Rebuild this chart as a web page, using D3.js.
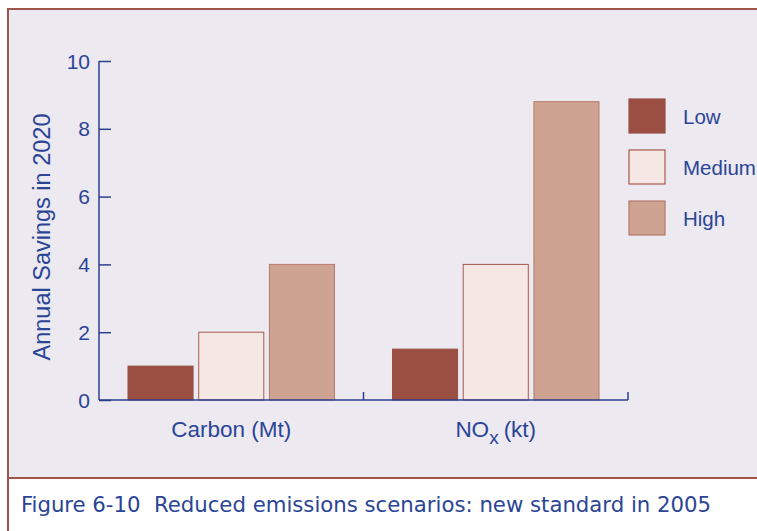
<!DOCTYPE html>
<html>
<head>
<meta charset="utf-8">
<script src="https://cdn.jsdelivr.net/npm/d3@7"></script>
<style>
  body { margin: 0; background: #fff; }
  svg { display: block; }
</style>
</head>
<body>
<div class="chart"></div>
<script>
// Data
const categories = ['Carbon (Mt)', 'NOx (kt)'];
const seriesNames = ['Low', 'Medium', 'High'];
const lowValues = [1, 1.5];
const mediumValues = [2, 4];
const highValues = [4, 8.8];
const yTicks = [0, 2, 4, 6, 8, 10];

const seriesValues = { Low: lowValues, Medium: mediumValues, High: highValues };
const dataset = [];
categories.forEach((c, i) => {
    seriesNames.forEach(s => dataset.push({ category: c, series: s, value: seriesValues[s][i] }));
});

// Dimensions
const dimensions = { width: 757, height: 531 };
const textColor = '#2b4596';
const axisColor = '#2b3f8f';
const borderColor = '#a0554b';
const font = 'Liberation Sans, Arial, sans-serif';

const svg = d3.select('.chart')
    .append('svg')
    .attr('width', dimensions.width)
    .attr('height', dimensions.height);

// Panel
svg.append('rect')
    .attr('x', 8).attr('y', 9)
    .attr('width', 760).attr('height', 469)
    .attr('fill', '#ece9f1')
    .attr('stroke', borderColor)
    .attr('stroke-width', 2);
svg.append('line')
    .attr('x1', 8).attr('x2', 8)
    .attr('y1', 478).attr('y2', 531)
    .attr('stroke', borderColor)
    .attr('stroke-width', 2);

// Scales
const xScale = d3.scaleBand()
    .domain(categories)
    .range([99, 628]);

const subScale = d3.scaleBand()
    .domain(seriesNames)
    .range([0, xScale.bandwidth()])
    .paddingInner(0.08)
    .paddingOuter(0.41);

const yScale = d3.scaleLinear()
    .domain([0, 10])
    .range([400, 61]);

const fillScale = d3.scaleOrdinal()
    .domain(seriesNames)
    .range(['#9a4f42', '#f5e8e4', '#cfa391']);
const strokeScale = d3.scaleOrdinal()
    .domain(seriesNames)
    .range(['#9a4f42', '#a85a4e', '#b47a6b']);

// Bars
svg.append('g')
    .selectAll('rect')
    .data(dataset)
    .join('rect')
    .attr('x', d => xScale(d.category) + subScale(d.series))
    .attr('y', d => yScale(d.value))
    .attr('width', subScale.bandwidth())
    .attr('height', d => yScale(0) - yScale(d.value))
    .attr('fill', d => fillScale(d.series))
    .attr('stroke', d => strokeScale(d.series))
    .attr('stroke-width', 1);

// Y axis
const yAxisGroup = svg.append('g')
    .attr('transform', 'translate(99,0)')
    .call(d3.axisRight(yScale).tickValues(yTicks).tickSize(12).tickFormat(''));
yAxisGroup.select('.domain').attr('d', `M0,${yScale(10)}V${yScale(0)}`);
yAxisGroup.selectAll('line, path').attr('stroke', axisColor).attr('stroke-width', 1.5);

svg.append('g')
    .selectAll('text')
    .data(yTicks)
    .join('text')
    .attr('x', 90)
    .attr('y', d => yScale(d) + 7.5)
    .attr('text-anchor', 'end')
    .attr('font-family', font)
    .attr('font-size', 21)
    .attr('fill', textColor)
    .text(d => d);

// X axis
const xAxisGroup = svg.append('g')
    .attr('transform', `translate(0,${yScale(0)})`)
    .call(d3.axisTop(xScale).tickSize(0).tickFormat(''));
xAxisGroup.selectAll('.tick').remove();
xAxisGroup.select('.domain').attr('d', `M99,0H628`);
xAxisGroup.selectAll('path').attr('stroke', axisColor).attr('stroke-width', 1.5).attr('fill', 'none');
xAxisGroup.selectAll('line.sep')
    .data(categories)
    .join('line')
    .attr('class', 'sep')
    .attr('x1', d => xScale(d) + xScale.bandwidth())
    .attr('x2', d => xScale(d) + xScale.bandwidth())
    .attr('y1', 0).attr('y2', -8)
    .attr('stroke', axisColor)
    .attr('stroke-width', 1.5);

const xLabels = svg.append('g')
    .selectAll('text')
    .data(categories)
    .join('text')
    .attr('x', d => xScale(d) + xScale.bandwidth() / 2)
    .attr('y', 437)
    .attr('text-anchor', 'middle')
    .attr('font-family', font)
    .attr('font-size', 22.5)
    .attr('fill', textColor);
xLabels.each(function(d) {
    const t = d3.select(this);
    if (d === 'NOx (kt)') {
        t.append('tspan').text('NO');
        t.append('tspan').attr('dy', 7).attr('font-size', 19).text('x');
        t.append('tspan').attr('dy', -7).attr('dx', 5).text('(kt)');
    } else {
        t.text(d);
    }
});

// Y title
svg.append('text')
    .attr('transform', 'translate(50,237) rotate(-90)')
    .attr('text-anchor', 'middle')
    .attr('font-family', font)
    .attr('font-size', 23.5)
    .attr('fill', textColor)
    .text('Annual Savings in 2020');

// Legend
const legendScale = d3.scalePoint()
    .domain(seriesNames)
    .range([116, 218]);

const legendGroup = svg.append('g');
legendGroup.selectAll('rect')
    .data(seriesNames)
    .join('rect')
    .attr('x', 629)
    .attr('y', d => legendScale(d) - 17)
    .attr('width', 36)
    .attr('height', 34)
    .attr('fill', fillScale)
    .attr('stroke', strokeScale)
    .attr('stroke-width', 1.2);
legendGroup.selectAll('text')
    .data(seriesNames)
    .join('text')
    .attr('x', 683)
    .attr('y', d => legendScale(d) + 8)
    .attr('font-family', font)
    .attr('font-size', 20.5)
    .attr('fill', textColor)
    .text(d => d);

// Caption
svg.append('text')
    .attr('x', 21)
    .attr('y', 512)
    .attr('font-family', 'Liberation Sans Narrow, DejaVu Sans Condensed, sans-serif')
    .attr('font-size', 21)
    .attr('fill', textColor)
    .attr('textLength', 690)
    .attr('lengthAdjust', 'spacingAndGlyphs')
    .style('white-space', 'pre')
    .text('Figure 6-10  Reduced emissions scenarios: new standard in 2005');
</script>
</body>
</html>
